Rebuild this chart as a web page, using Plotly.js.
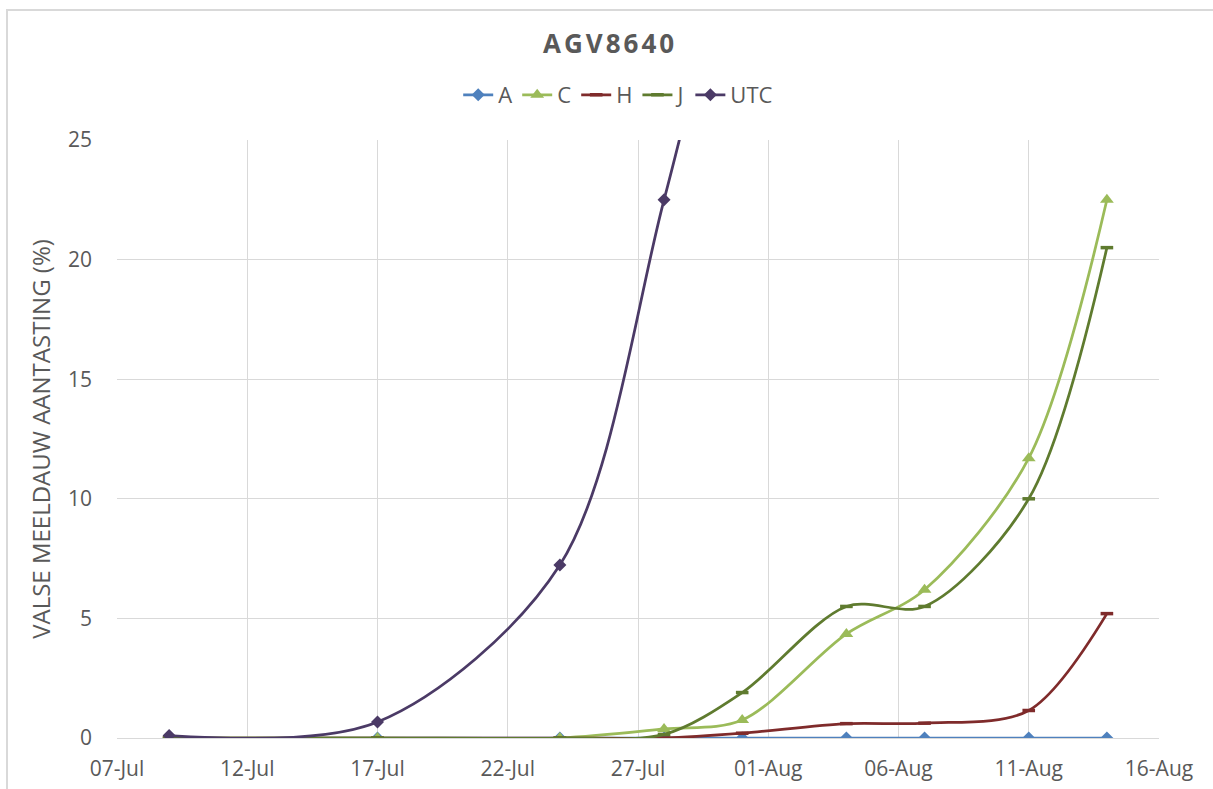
<!DOCTYPE html>
<html>
<head>
<meta charset="utf-8">
<script src="https://cdn.plot.ly/plotly-3.0.1.min.js"></script>
<style>
  html, body { margin: 0; padding: 0; background: #fff; }
  #chart { width: 1213px; height: 789px; }
</style>
</head>
<body>
<div id="chart"></div>
<script>
// 觀測日期
const dates = ['2020-07-09', '2020-07-17', '2020-07-24', '2020-07-28', '2020-07-31', '2020-08-04', '2020-08-07', '2020-08-11', '2020-08-14'];
const datesUtc = ['2020-07-09', '2020-07-17', '2020-07-24', '2020-07-28', '2020-07-31'];

// 各處理的數值 (%)
const valA = [0, 0, 0, 0, 0, 0, 0, 0, 0];
const valC = [0, 0, 0, 0.38, 0.75, 4.35, 6.2, 11.7, 22.5];
const valH = [0, 0, 0, 0, 0.2, 0.6, 0.62, 1.15, 5.2];
const valJ = [0, 0, 0, 0.15, 1.9, 5.5, 5.5, 10, 20.5];
const valUtc = [0.1, 0.67, 7.23, 22.5, 36];

const seriesNames = ['A', 'C', 'H', 'J', 'UTC'];

function makeTrace(name, x, y, color, symbol, size) {
    return {
        x: x,
        y: y,
        name: name,
        mode: 'lines+markers',
        type: 'scatter',
        line: { color: color, width: 2.75, shape: 'spline', smoothing: 0.9 },
        marker: { color: color, symbol: symbol, size: size }
    };
}

const traces = [
    makeTrace(seriesNames[0], dates, valA, '#4f81bd', 'diamond', 10),
    makeTrace(seriesNames[1], dates, valC, '#9bbb59', 'triangle-up', 12),
    makeTrace(seriesNames[2], dates, valH, '#7f2b2b', 'line-ew-open', 9),
    makeTrace(seriesNames[3], dates, valJ, '#5f7b2f', 'line-ew-open', 9),
    makeTrace(seriesNames[4], datesUtc, valUtc, '#4b3a66', 'diamond', 10)
];
traces[2].marker.line = { color: '#7f2b2b', width: 3.5 };
traces[3].marker.line = { color: '#5f7b2f', width: 3.5 };

const layout = {
    width: 1213,
    height: 789,
    margin: { l: 117, r: 54, t: 140, b: 51 },
    paper_bgcolor: '#ffffff',
    plot_bgcolor: '#ffffff',
    font: { family: '"Open Sans", sans-serif', color: '#595959', size: 20 },
    title: {
        text: '<b><span style="letter-spacing:3px">AGV8640</span></b>',
        font: { family: '"Open Sans", sans-serif', size: 26, color: '#595959' },
        x: 0.503, xanchor: 'center', xref: 'container',
        y: 1 - 44 / 789, yanchor: 'middle', yref: 'container'
    },
    showlegend: true,
    legend: {
        orientation: 'h',
        x: 0.481, xanchor: 'center',
        y: 1 + 45 / 598, yanchor: 'middle',
        font: { size: 22, color: '#595959' },
        tracegroupgap: 0
    },
    xaxis: {
        type: 'date',
        range: ['2020-07-07', '2020-08-16'],
        tick0: '2020-07-07',
        dtick: 5 * 24 * 3600 * 1000,
        tickformat: '%d-%b',
        showgrid: true,
        gridcolor: '#d9d9d9',
        gridwidth: 1,
        showline: true,
        linecolor: '#d9d9d9',
        linewidth: 1,
        zeroline: false,
        ticks: '',
        ticklabelstandoff: 12,
        tickfont: { size: 21, color: '#595959' },
        automargin: false
    },
    yaxis: {
        range: [0, 25],
        dtick: 5,
        showgrid: true,
        gridcolor: '#d9d9d9',
        gridwidth: 1,
        zeroline: false,
        showline: false,
        ticks: '',
        ticklabelstandoff: 24,
        tickfont: { size: 21, color: '#595959' },
        title: {
            text: 'VALSE MEELDAUW AANTASTING (%)',
            font: { size: 24, color: '#595959' },
            standoff: 10
        },
        automargin: false
    },
    shapes: [{
        type: 'rect',
        xref: 'paper', yref: 'paper',
        x0: -110 / 1042, x1: 1.06,
        y0: -0.12, y1: 728 / 598,
        line: { color: '#d9d9d9', width: 2 },
        fillcolor: 'rgba(0,0,0,0)',
        layer: 'below'
    }]
};

Plotly.newPlot('chart', traces, layout, { staticPlot: true });
</script>
</body>
</html>
